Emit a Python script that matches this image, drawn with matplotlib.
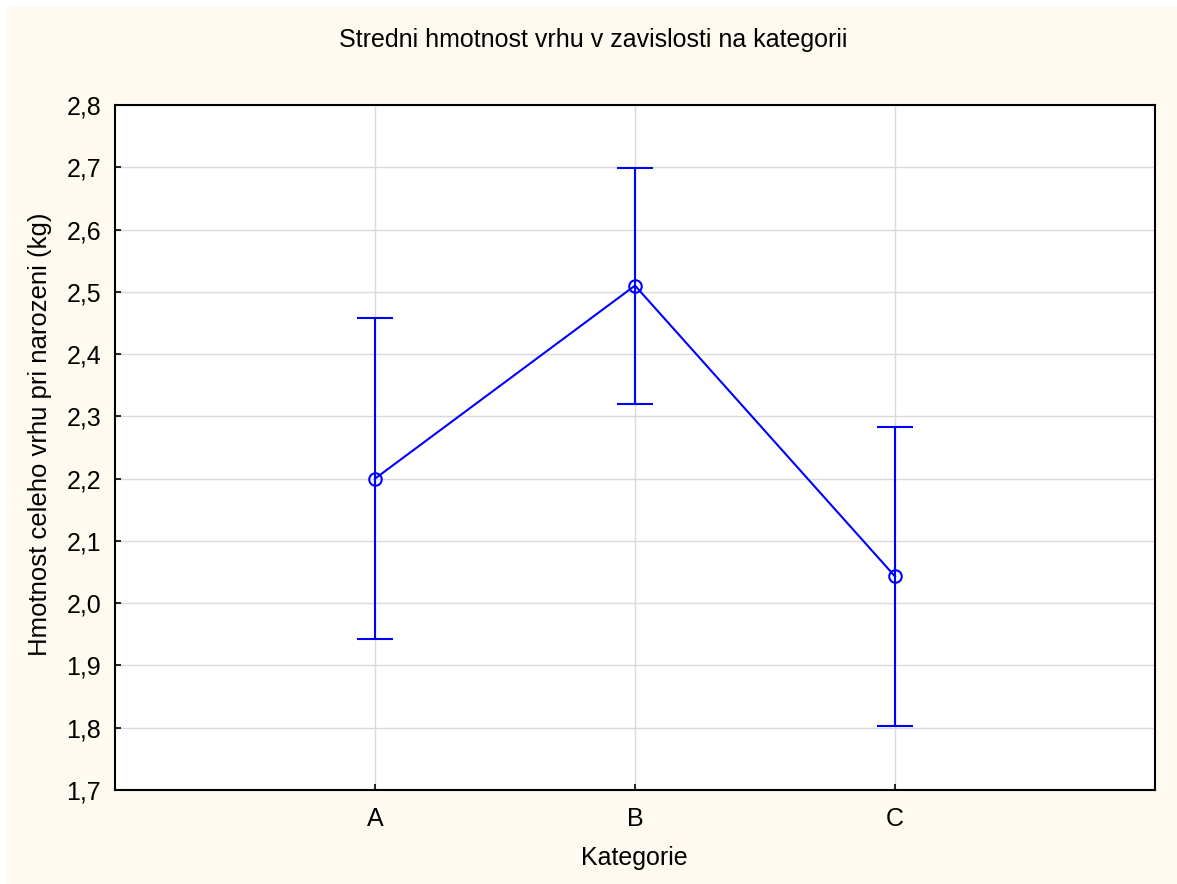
import numpy as np
import matplotlib.pyplot as plt
from matplotlib.patches import Rectangle
from matplotlib.ticker import FuncFormatter

plt.rcParams['font.family'] = ['Liberation Sans', 'DejaVu Sans']

categories = ['A', 'B', 'C']
means = [2.200, 2.510, 2.043]
upper = [2.458, 2.699, 2.283]
lower = [1.942, 2.320, 1.802]

y_ticks = [1.7, 1.8, 1.9, 2.0, 2.1, 2.2, 2.3, 2.4, 2.5, 2.6, 2.7, 2.8]

x = np.arange(1, len(categories) + 1)
m = np.array(means)
err = [m - np.array(lower), np.array(upper) - m]

W, H = 1177, 884
fig = plt.figure(figsize=(W / 100, H / 100), dpi=100, facecolor='white')
# cream panel behind everything, thin white strip on top and left
fig.patches.append(Rectangle((7 / W, 0), 1, 1 - 7 / H, transform=fig.transFigure,
                             facecolor='#FFFAF0', edgecolor='none', zorder=-10))

ax = fig.add_axes([115 / W, 1 - 790 / H, 1040 / W, 685 / H])
ax.set_facecolor('white')

ax.errorbar(x, m, yerr=err, color='#0000FF', lw=1.5, elinewidth=1.5,
            capsize=13, capthick=1.5, marker='o', ms=9, mfc='none', mew=1.5)

ax.set_xlim(0, 4)
ax.set_ylim(1.7, 2.8)
ax.set_xticks(x)
ax.set_xticklabels(categories)
ax.set_yticks(y_ticks)
ax.yaxis.set_major_formatter(FuncFormatter(lambda v, p: ('%.1f' % v).replace('.', ',')))

ax.grid(True, color='#DADADA', lw=1)
ax.set_axisbelow(True)
ax.tick_params(direction='in', length=4, width=1.2, labelsize=18)
ax.tick_params(axis='y', pad=10)
ax.tick_params(axis='x', pad=12)
for s in ax.spines.values():
    s.set_linewidth(1.5)

fig.text(593 / W, 1 - 40 / H, 'Stredni hmotnost vrhu v zavislosti na kategorii',
         fontsize=18, ha='center', va='center')
fig.text(634 / W, 1 - 858 / H, 'Kategorie', fontsize=18, ha='center', va='center')
fig.text(40 / W, 1 - 434 / H, 'Hmotnost celeho vrhu pri narozeni (kg)',
         fontsize=18.5, ha='center', va='center', rotation=90)

fig.savefig('out.png', dpi=100, facecolor=fig.get_facecolor())
